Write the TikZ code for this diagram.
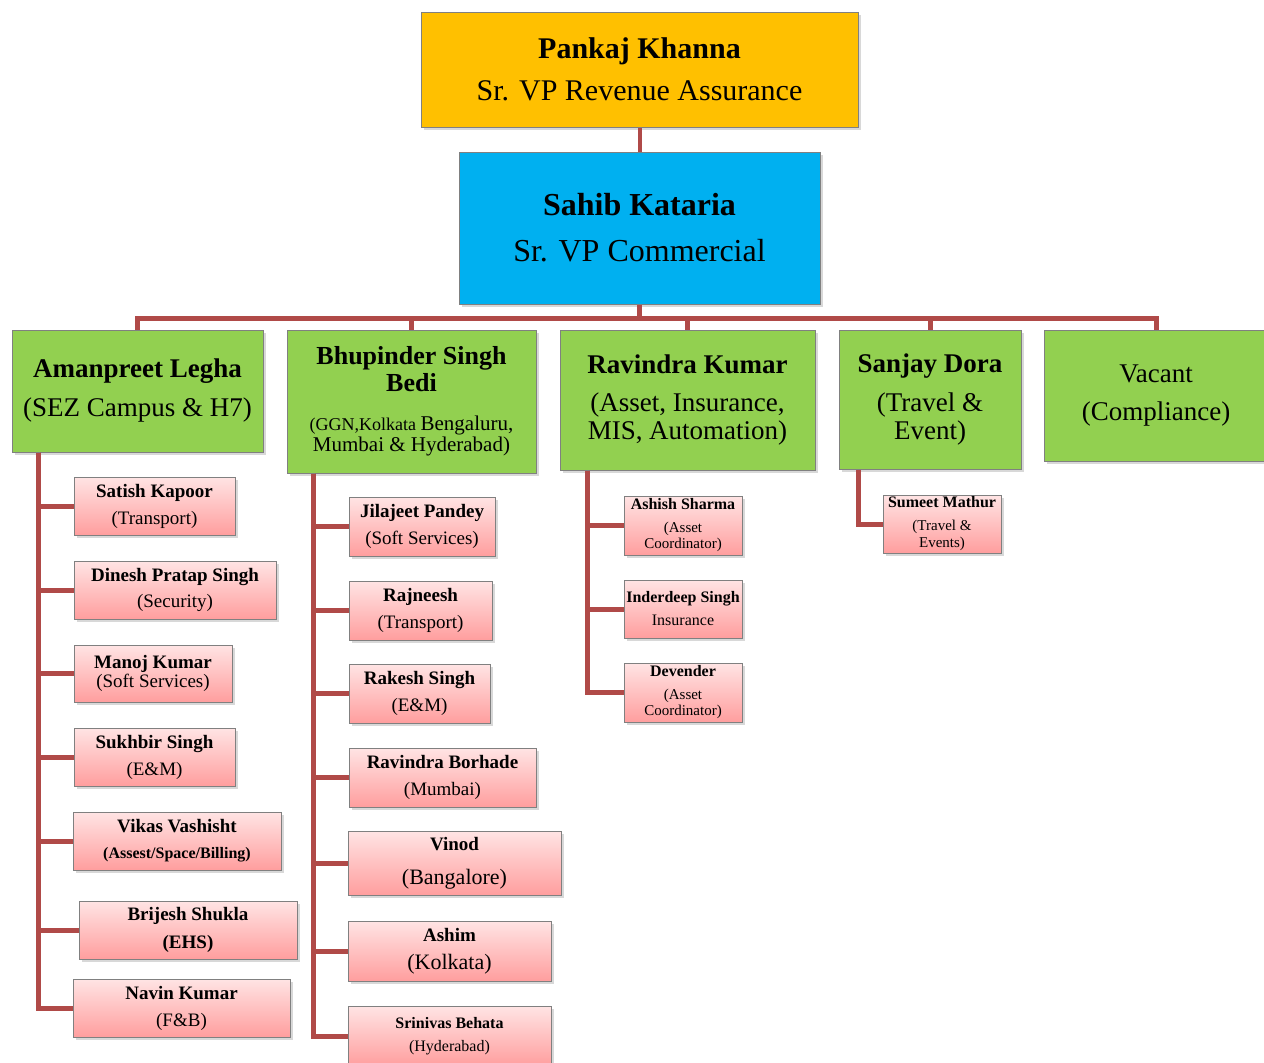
\documentclass[tikz,border=0pt]{standalone}
\usepackage{fontspec}
\setmainfont{Liberation Serif}
\usetikzlibrary{shadows}

\definecolor{linkred}{RGB}{176,74,72}
\definecolor{bossorange}{RGB}{255,192,0}
\definecolor{vpblue}{RGB}{0,176,240}
\definecolor{headgreen}{RGB}{146,208,80}
\definecolor{pinktop}{RGB}{255,228,228}
\definecolor{pinkbot}{RGB}{255,158,158}
\definecolor{boxline}{RGB}{128,128,128}

\newcommand{\sz}[2]{\fontsize{#1}{#2}\selectfont}

\tikzset{
  orgbox/.style={rectangle, draw=boxline, line width=1pt, inner sep=1pt, align=center,
    drop shadow={shadow xshift=3pt, shadow yshift=-3pt, opacity=0.3}},
  bossbox/.style={orgbox, fill=bossorange, font=\sz{30}{42}},
  vpbox/.style={orgbox, fill=vpblue, font=\sz{32}{46}},
  headbox/.style={orgbox, fill=headgreen, font=\sz{27}{38}},
  staffbox/.style={orgbox, top color=pinktop, bottom color=pinkbot, font=\sz{19}{27}},
  smallbox/.style={staffbox, font=\sz{16}{23}},
  conn/.style={draw=linkred, line width=5pt},
}

\begin{document}
\begin{tikzpicture}[x=1pt,y=-1pt]
  \useasboundingbox (0,0) rectangle (1264,1063);
  \fill[white] (0,0) rectangle (1264,1063);

  % top of the chart
  \node[bossbox, minimum width=437pt, minimum height=115pt] (pankaj) at (639.5,69.5)
    {\textbf{Pankaj Khanna}\\Sr. VP Revenue Assurance};
  \node[vpbox, minimum width=361pt, minimum height=152pt] (sahib) at (639.5,228)
    {\textbf{Sahib Kataria}\\Sr. VP Commercial};

  % heads
  \node[headbox, minimum width=251pt, minimum height=122pt] (aman) at (137.5,391)
    {\textbf{Amanpreet Legha}\\[1pt](SEZ Campus \& H7)};
  \node[headbox, minimum width=249pt, minimum height=143pt] (bhup) at (411.5,401.5)
    {\textbf{\sz{26}{38}Bhupinder Singh}\\[-11pt]\textbf{\sz{26}{38}Bedi}\\[1pt]\sz{18}{38}(GGN,Kolkata \sz{21}{38}Bengaluru,\\[-17pt]\sz{21}{38}Mumbai \& Hyderabad)};
  \node[headbox, minimum width=255pt, minimum height=140pt] (ravi) at (687.5,400)
    {\textbf{Ravindra Kumar}\\(Asset, Insurance,\\[-10pt]MIS, Automation)};
  \node[headbox, minimum width=182pt, minimum height=139pt] (sanj) at (930,399.5)
    {\textbf{Sanjay Dora}\\[1pt](Travel \&\\[-10pt]Event)};
  \node[headbox, minimum width=224pt, minimum height=131pt] (vac) at (1156,395.5)
    {Vacant\\(Compliance)};

  % Amanpreet's team
  \node[staffbox, minimum width=161pt, minimum height=58pt] (sat) at (154.5,506)
    {\textbf{Satish Kapoor}\\(Transport)};
  \node[staffbox, minimum width=202pt, minimum height=58pt] (din) at (175,590)
    {\textbf{Dinesh Pratap Singh}\\[-1pt](Security)};
  \node[staffbox, minimum width=158pt, minimum height=57pt] (man) at (153,673.5)
    {\textbf{Manoj Kumar}\\[-8pt](Soft Services)};
  \node[staffbox, minimum width=161pt, minimum height=58pt] (suk) at (154.5,757)
    {\textbf{Sukhbir Singh}\\(E\&M)};
  \node[staffbox, minimum width=208pt, minimum height=58pt] (vik) at (177,841)
    {\textbf{Vikas Vashisht}\\[-1pt]\sz{16}{27}\textbf{(Assest/Space/Billing)}};
  \node[staffbox, minimum width=218pt, minimum height=58pt] (bri) at (188,930)
    {\textbf{Brijesh Shukla}\\[1pt]\textbf{(EHS)}};
  \node[staffbox, minimum width=217pt, minimum height=58pt] (nav) at (181.5,1008)
    {\textbf{Navin Kumar}\\(F\&B)};

  % Bhupinder's team
  \node[staffbox, minimum width=146pt, minimum height=59pt] (jil) at (422,526.5)
    {\textbf{Jilajeet Pandey}\\(Soft Services)};
  \node[staffbox, minimum width=143pt, minimum height=59pt] (raj) at (420.5,610.5)
    {\textbf{Rajneesh}\\(Transport)};
  \node[staffbox, minimum width=141pt, minimum height=59pt] (rak) at (419.5,693.5)
    {\textbf{Rakesh Singh}\\(E\&M)};
  \node[staffbox, minimum width=187pt, minimum height=59pt] (bor) at (442.5,777.5)
    {\textbf{Ravindra Borhade}\\(Mumbai)};
  \node[staffbox, minimum width=213pt, minimum height=64pt] (vin) at (454.5,863)
    {\textbf{Vinod}\\[7pt]\sz{22}{27}(Bangalore)};
  \node[staffbox, minimum width=203pt, minimum height=60pt] (ash) at (449.5,951)
    {\textbf{Ashim}\\[1pt]\sz{22}{27}(Kolkata)};
  \node[smallbox, minimum width=203pt, minimum height=60pt] (sri) at (449.5,1036)
    {\textbf{Srinivas Behata}\\(Hyderabad)};

  % Ravindra's team
  \node[smallbox, minimum width=118pt, minimum height=59pt] (asr) at (683,525.5)
    {\textbf{Ashish Sharma}\\\sz{15}{23}(Asset\\[-7pt]\sz{15}{23}Coordinator)};
  \node[smallbox, minimum width=118pt, minimum height=58pt] (ind) at (683,609)
    {\textbf{Inderdeep Singh}\\Insurance};
  \node[smallbox, minimum width=118pt, minimum height=59pt] (dev) at (683,692.5)
    {\textbf{Devender}\\\sz{15}{23}(Asset\\[-7pt]\sz{15}{23}Coordinator)};

  % Sanjay's team
  \node[smallbox, minimum width=118pt, minimum height=58pt] (sum) at (942,524)
    {\textbf{Sumeet Mathur}\\\sz{15}{23}(Travel \&\\[-6pt]\sz{15}{23}Events)};

  % connectors
  \draw[conn, line width=4pt] (pankaj) -- (sahib);
  \coordinate (bus) at (sahib.south |- 0,318);
  \draw[conn] (sahib) -- (bus);
  \foreach \g in {aman,bhup,ravi,sanj,vac}
    \draw[conn] (bus) -| (\g.north);

  \coordinate (amT) at (38,0 |- aman.south);
  \foreach \s in {sat,din,man,suk,vik,bri,nav}
    \draw[conn] (amT) |- (\s.west);
  \coordinate (bhT) at (313,0 |- bhup.south);
  \foreach \s in {jil,raj,rak,bor,vin,ash,sri}
    \draw[conn] (bhT) |- (\s.west);
  \coordinate (raT) at (587,0 |- ravi.south);
  \foreach \s in {asr,ind,dev}
    \draw[conn] (raT) |- (\s.west);
  \coordinate (saT) at (858,0 |- sanj.south);
  \draw[conn] (saT) |- (sum.west);
\end{tikzpicture}
\end{document}
